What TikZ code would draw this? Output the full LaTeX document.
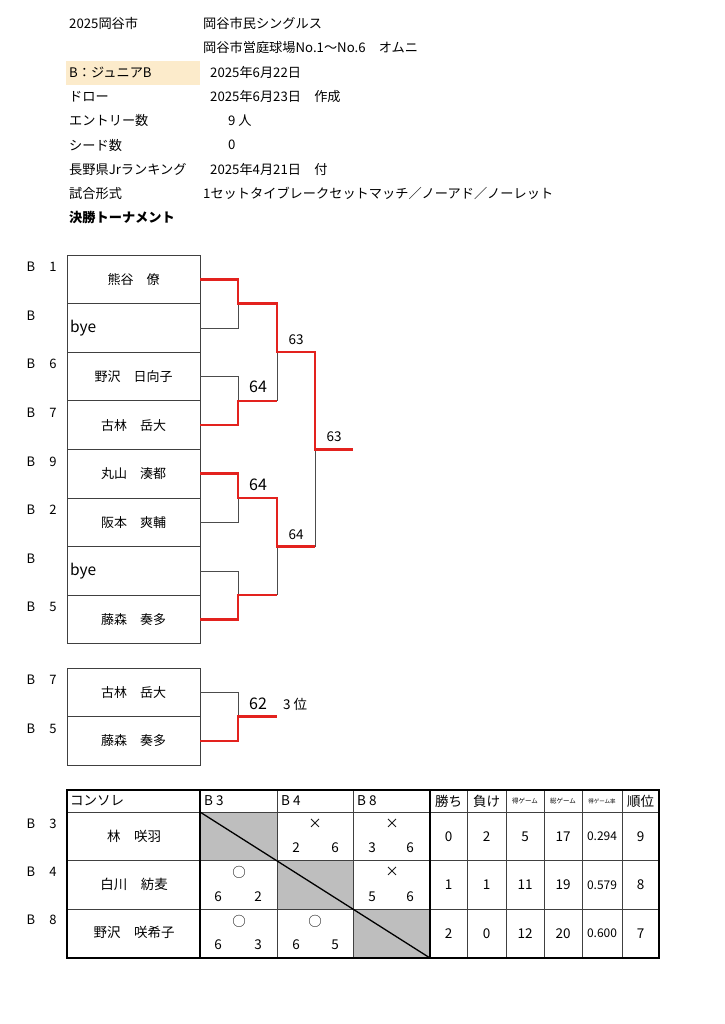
\documentclass[tikz,border=0pt]{standalone}
\usepackage{fontspec}
\setmainfont{Noto Sans CJK JP}
\definecolor{winred}{HTML}{E3221E}
\definecolor{seedbg}{HTML}{FCEBCB}
\definecolor{cellgray}{HTML}{BEBEBE}
\tikzset{
    head/.style={anchor=west, inner sep=0pt, font=\fontsize{13.2}{15}\selectfont},
    seedlbl/.style={inner sep=0pt, font=\fontsize{13}{15}\selectfont},
    namebox/.style={draw=black!75, line width=0.8pt, minimum width=133pt, minimum height=48.6pt, inner sep=0pt, font=\fontsize{13}{15}\selectfont},
    byetext/.style={anchor=west, inner sep=0pt, font=\fontsize{15.5}{17}\selectfont},
    lose/.style={draw=black!70, line width=0.8pt},
    win/.style={draw=winred, line width=2.5pt},
    score/.style={inner sep=0pt, font=\fontsize{13.5}{15}\selectfont},
    bigscore/.style={inner sep=0pt, font=\fontsize{16}{18}\selectfont},
    grid/.style={draw=black!75, line width=0.7pt},
    frame/.style={draw=black, line width=2pt},
    cell/.style={inner sep=0pt, font=\fontsize{13.5}{15}\selectfont},
    tiny/.style={inner sep=0pt, font=\fontsize{6.5}{8}\selectfont}
}
\begin{document}
\begin{tikzpicture}[x=1pt, y=-1pt]
    \useasboundingbox (0,0) rectangle (724,1024);
    \fill[seedbg] (66,61) rectangle (200,85);
    \node[head] (h1) at (69,23.6) {2025岡谷市};
    \node[head] (h2) at (69,72.2) {B：ジュニアB};
    \node[head] (h3) at (69,96.5) {ドロー};
    \node[head] (h4) at (69,120.8) {エントリー数};
    \node[head] (h5) at (69,145.1) {シード数};
    \node[head] (h6) at (69,169.4) {長野県Jrランキング};
    \node[head] (h7) at (69,193.7) {試合形式};
    \node[head, font=\fontsize{13.2}{15}\selectfont\bfseries] (h8) at (69,218) {決勝トーナメント};
    \node[head] (v1) at (203,23.6) {岡谷市民シングルス};
    \node[head] (v2) at (203,47.9) {岡谷市営庭球場No.1～No.6　オムニ};
    \node[head] (v3) at (210,72.2) {2025年6月22日};
    \node[head] (v4) at (210,96.5) {2025年6月23日　作成};
    \node[head] (v5) at (228,120.8) {9 人};
    \node[head] (v6) at (228,145.1) {0};
    \node[head] (v7) at (210,169.4) {2025年4月21日　付};
    \node[head] (v8) at (203,193.7) {1セットタイブレークセットマッチ／ノーアド／ノーレット};

    \foreach \i/\s in {1/1, 2/, 3/6, 4/7, 5/9, 6/2, 7/, 8/5}{
        \node[seedlbl] (b\i) at (31,{267+48.6*(\i-1)}) {B};
        \node[seedlbl] (n\i) at (53,{267+48.6*(\i-1)}) {\s};
    }
    \foreach \i/\name in {1/熊谷　僚, 2/, 3/野沢　日向子, 4/古林　岳大, 5/丸山　湊都, 6/阪本　爽輔, 7/, 8/藤森　奏多}{
        \node[namebox] (p\i) at (133.5,{279.3+48.6*(\i-1)}) {\name};
    }
    \node[byetext] (bye1) at (70,327.9) {bye};
    \node[byetext] (bye2) at (70,570.9) {bye};

    \coordinate (m1) at (238,303.6);
    \coordinate (m2) at (238,400.8);
    \coordinate (m3) at (238,498);
    \coordinate (m4) at (238,595.2);
    \coordinate (s1) at (277,352.2);
    \coordinate (s2) at (277,546.6);
    \coordinate (f) at (315,449.4);
    \coordinate (fin) at (353,449.4);

    \draw[lose] (p2.east) -| (m1);
    \draw[lose] (p3.east) -| (m2);
    \draw[lose] (p6.east) -| (m3);
    \draw[lose] (p7.east) -| (m4);
    \draw[lose] (s1 |- m2) -- (s1);
    \draw[lose] (s2 |- m4) -- (s2);
    \draw[lose] (f |- s2) -- (f);
    \draw[win] (p1.east) -| (m1) -- (s1 |- m1) -- (s1) -- (f |- s1) -- (f) -- (fin);
    \draw[win] (p4.east) -| (m2) -- (s1 |- m2);
    \draw[win] (p5.east) -| (m3) -- (s2 |- m3) -- (s2) -- (f |- s2);
    \draw[win] (p8.east) -| (m4) -- (s2 |- m4);

    \node[score] (r1) at (296,340) {63};
    \node[bigscore] (r2) at (258,387) {64};
    \node[score] (r3) at (334,437) {63};
    \node[bigscore] (r4) at (258,485) {64};
    \node[score] (r5) at (296,535) {64};

    \node[seedlbl] (tb1) at (31,680) {B};
    \node[seedlbl] (tn1) at (53,680) {7};
    \node[seedlbl] (tb2) at (31,729) {B};
    \node[seedlbl] (tn2) at (53,729) {5};
    \node[namebox] (q1) at (133.5,692.4) {古林　岳大};
    \node[namebox] (q2) at (133.5,741) {藤森　奏多};
    \coordinate (m5) at (238,716.7);
    \coordinate (third) at (277,716.7);
    \draw[lose] (q1.east) -| (m5);
    \draw[win] (q2.east) -| (m5) -- (third);
    \node[bigscore] (r6) at (258,704) {62};
    \node[score, anchor=west] (r7) at (283,704) {3 位};

    \fill[cellgray] (200,812) rectangle (277,860.7) (277,860.7) rectangle (353,909.3) (353,909.3) rectangle (430,958);
    \foreach \x in {277,353,467,506,544,582,622}{
        \draw[grid] (\x,790) -- (\x,958);
    }
    \foreach \y in {812,860.7,909.3}{
        \draw[grid] (67,\y) -- (659,\y);
    }
    \draw[black, line width=1.3pt] (200,812) -- (430,958);
    \draw[frame] (67,790) rectangle (659,958);
    \draw[frame] (200,790) -- (200,958) (430,790) -- (430,958);

    \node[cell, anchor=west] (c0) at (70,801) {コンソレ};
    \node[cell, anchor=west] (c1) at (204,801) {B 3};
    \node[cell, anchor=west] (c2) at (281,801) {B 4};
    \node[cell, anchor=west] (c3) at (357,801) {B 8};
    \node[cell] (c4) at (448.5,801) {勝ち};
    \node[cell] (c5) at (486.5,801) {負け};
    \node[tiny] (c6) at (525,801) {得ゲーム};
    \node[tiny] (c7) at (563,801) {総ゲーム};
    \node[tiny, font=\fontsize{5.5}{7}\selectfont] (c8) at (602,801) {得ゲーム率};
    \node[cell] (c9) at (640.5,801) {順位};

    \foreach \i/\y/\s/\name in {1/824/3/林　咲羽, 2/872/4/白川　紡麦, 3/920/8/野沢　咲希子}{
        \node[seedlbl] (cb\i) at (31,\y) {B};
        \node[seedlbl] (cn\i) at (53,\y) {\s};
        \node[cell] (t\i) at (134,{\y+12.4}) {\name};
    }
    \foreach \i/\x/\y/\m in {1/315/824/×, 2/392/824/×, 3/239/872/○, 4/392/872/×, 5/239/921/○, 6/315/921/○}{
        \node[cell] (k\i) at (\x,\y) {\m};
    }
    \foreach \i/\x/\y/\s in {1/296/848/2, 2/335/848/6, 3/372/848/3, 4/410/848/6, 5/218/897/6, 6/258/897/2, 7/372/897/5, 8/410/897/6, 9/218/945/6, 10/258/945/3, 11/296/945/6, 12/335/945/5}{
        \node[cell] (g\i) at (\x,\y) {\s};
    }
    \foreach \i/\y/\a/\b/\c/\d/\e/\f in {1/836.4/0/2/5/17/0.294/9, 2/885/1/1/11/19/0.579/8, 3/933.6/2/0/12/20/0.600/7}{
        \node[cell] (w\i) at (448.5,\y) {\a};
        \node[cell] (l\i) at (486.5,\y) {\b};
        \node[cell] (gg\i) at (525,\y) {\c};
        \node[cell] (tg\i) at (563,\y) {\d};
        \node[cell, font=\fontsize{12}{14}\selectfont] (rt\i) at (602,\y) {\e};
        \node[cell] (rk\i) at (640.5,\y) {\f};
    }
\end{tikzpicture}
\end{document}
